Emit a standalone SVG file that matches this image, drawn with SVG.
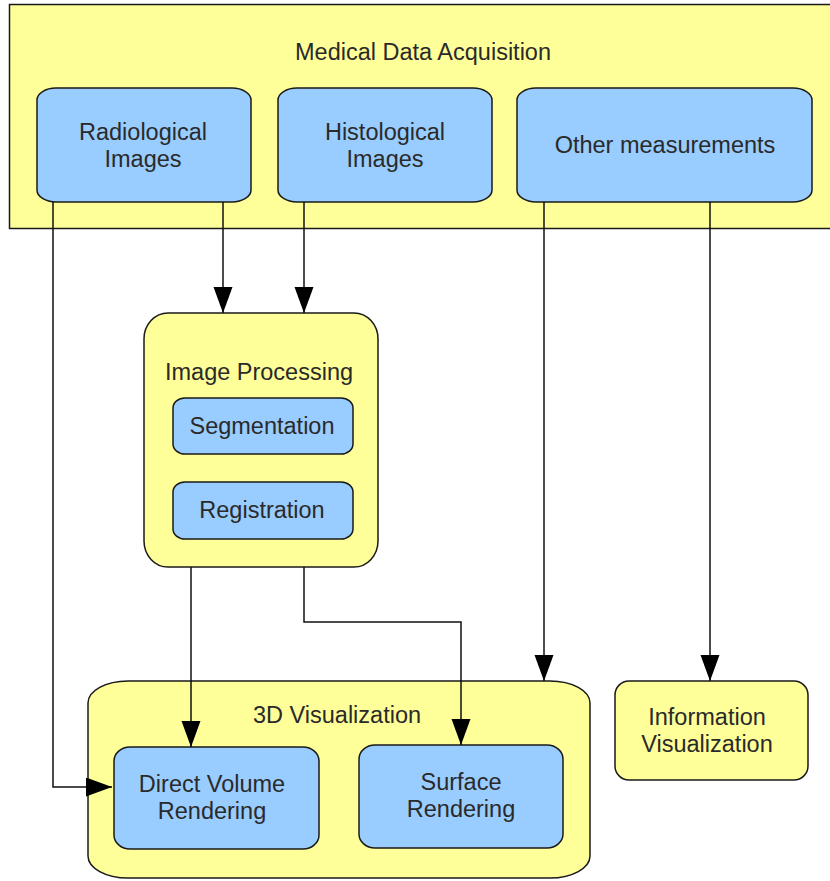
<svg xmlns="http://www.w3.org/2000/svg" width="830" height="881" viewBox="0 0 830 881">
  <style>
    .yellow { fill: #ffff99; stroke: #1a1a1a; stroke-width: 1.5; }
    .blue { fill: #99ccff; stroke: #1a1a1a; stroke-width: 1.5; }
    .lbl { font-family: "Liberation Sans", Arial, sans-serif; font-size: 23.5px; fill: #2a2a2a; text-anchor: middle; }
    .edge { fill: none; stroke: #111; stroke-width: 1.5; }
  </style>
  <defs>
    <marker id="arrow" markerUnits="userSpaceOnUse" markerWidth="28" markerHeight="20" refX="26" refY="9.5" orient="auto">
      <path d="M0,0 L26,9.5 L0,19 Z" fill="#000"/>
    </marker>
  </defs>
  <rect width="830" height="881" fill="#ffffff"/>

  <!-- acquisition group -->
  <g id="acquisition">
    <rect class="yellow" x="9.5" y="4.5" width="830" height="224"/>
    <text class="lbl" x="423" y="60">Medical Data Acquisition</text>
  </g>
  <g id="radiological">
    <rect class="blue" x="37" y="88" width="214" height="114" rx="19" ry="12"/>
    <text class="lbl" x="143" y="140">Radiological</text>
    <text class="lbl" x="143" y="167">Images</text>
  </g>
  <g id="histological">
    <rect class="blue" x="278" y="88" width="214" height="114" rx="19" ry="12"/>
    <text class="lbl" x="385" y="140">Histological</text>
    <text class="lbl" x="385" y="167">Images</text>
  </g>
  <g id="other">
    <rect class="blue" x="517" y="88" width="295" height="114" rx="19" ry="12"/>
    <text class="lbl" x="665" y="153">Other measurements</text>
  </g>

  <!-- image processing group -->
  <g id="processing">
    <rect class="yellow" x="144" y="313" width="234" height="254" rx="24" ry="26"/>
    <text class="lbl" x="259" y="380">Image Processing</text>
  </g>
  <g id="segmentation">
    <rect class="blue" x="173" y="398" width="180" height="56" rx="12" ry="10"/>
    <text class="lbl" x="262" y="434">Segmentation</text>
  </g>
  <g id="registration">
    <rect class="blue" x="173" y="482" width="180" height="57" rx="12" ry="10"/>
    <text class="lbl" x="262" y="518">Registration</text>
  </g>

  <!-- visualization -->
  <g id="visualization3d">
    <rect class="yellow" x="88" y="681" width="502" height="197" rx="40" ry="22"/>
    <text class="lbl" x="337" y="723">3D Visualization</text>
  </g>
  <g id="dvr">
    <rect class="blue" x="114" y="747" width="205" height="102" rx="16" ry="14"/>
    <text class="lbl" x="212" y="792">Direct Volume</text>
    <text class="lbl" x="212" y="819">Rendering</text>
  </g>
  <g id="surface">
    <rect class="blue" x="359" y="745" width="204" height="103" rx="16" ry="14"/>
    <text class="lbl" x="461" y="790">Surface</text>
    <text class="lbl" x="461" y="817">Rendering</text>
  </g>
  <g id="infovis">
    <rect class="yellow" x="615" y="681" width="193" height="99" rx="14" ry="14"/>
    <text class="lbl" x="707" y="725">Information</text>
    <text class="lbl" x="707" y="752">Visualization</text>
  </g>

  <!-- connectors -->
  <g id="connectors">
    <path class="edge" d="M53,202 V787 H112" marker-end="url(#arrow)"/>
    <path class="edge" d="M223,202 V313" marker-end="url(#arrow)"/>
    <path class="edge" d="M304,202 V313" marker-end="url(#arrow)"/>
    <path class="edge" d="M544,202 V681" marker-end="url(#arrow)"/>
    <path class="edge" d="M710,202 V681" marker-end="url(#arrow)"/>
    <path class="edge" d="M191,567 V747" marker-end="url(#arrow)"/>
    <path class="edge" d="M304,567 V622 H461 V745" marker-end="url(#arrow)"/>
  </g>
</svg>
